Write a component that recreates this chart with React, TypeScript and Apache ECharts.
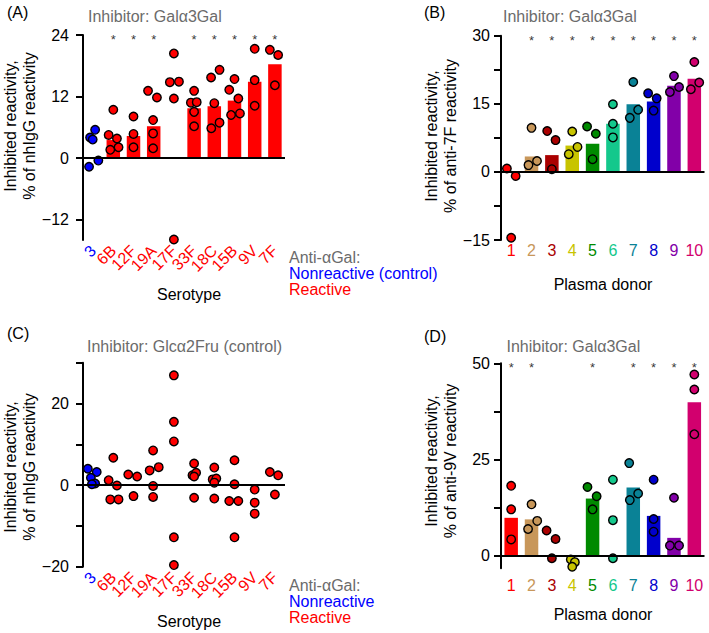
import React, { useEffect, useRef } from 'react';
import * as echarts from 'echarts';

const FONT = '"Liberation Sans", Arial, Helvetica, sans-serif';

// ---------- categories ----------
const serotypes = ['3', '6B', '12F', '19A', '17F', '33F', '18C', '15B', '9V', '7F'];
const serotypeColors = ['#0000ff', '#ff0000', '#ff0000', '#ff0000', '#ff0000', '#ff0000', '#ff0000', '#ff0000', '#ff0000', '#ff0000'];
const donors = ['1', '2', '3', '4', '5', '6', '7', '8', '9', '10'];
const donorColors = ['#ff0000', '#c8975a', '#aa0000', '#c8c400', '#008a00', '#14c88c', '#0a8296', '#0000cc', '#8200a8', '#d2006e'];

// ---------- Panel A (Galα3Gal, % of nhIgG) ----------
const aBars = [null, 3.5, 4.3, 6.2, null, 9.7, 10.1, 11.2, 14.9, 18.3];
const aStars = [1, 2, 3, 5, 6, 7, 8, 9];
// [category index, horizontal jitter, value]
const aPoints = [
  [0, -0.15, 4.0], [0, 0.1, 5.5], [0, -0.02, 3.6], [0, -0.2, -1.7], [0, 0.26, -0.5],
  [1, 0, 9.4], [1, -0.23, 4.5], [1, 0.18, 3.8], [1, -0.15, 1.6], [1, 0.26, 2.1],
  [2, 0, 8.1], [2, 0, 4.7], [2, 0, 2.1],
  [3, -0.28, 13.1], [3, 0.16, 11.8], [3, -0.03, 7.4], [3, -0.03, 4.8], [3, -0.03, 1.9],
  [4, 0, 20.4], [4, -0.2, 14.8], [4, 0.25, 14.9], [4, 0, 11.6], [4, 0, -15.9],
  [5, 0, 13.1], [5, -0.16, 10.8], [5, 0.13, 10.9], [5, 0, 9.0], [5, 0, 6.2],
  [6, -0.16, 15.7], [6, 0.26, 17.2], [6, 0, 10.7], [6, -0.15, 5.8], [6, 0.26, 6.9],
  [7, -0.26, 13.3], [7, 0, 15.4], [7, 0.19, 11.6], [7, -0.17, 8.4], [7, 0.27, 8.7],
  [8, 0, 21.3], [8, 0, 15.2], [8, 0, 10.2],
  [9, -0.25, 21.1], [9, 0.16, 20.1], [9, 0, 14.2],
];
const aTicks = [-12, 0, 12, 24];

// ---------- Panel B (Galα3Gal, % of anti-7F) ----------
const bBars = [null, 3.4, 3.7, 5.8, 6.2, 10.6, 14.9, 15.5, 19.0, 20.5];
const bStars = [1, 2, 3, 4, 5, 6, 7, 8, 9];
const bPoints = [
  [0, -0.21, 0.75], [0, 0.22, -0.9], [0, 0, -14.5],
  [1, 0, 9.7], [1, -0.15, 1.5], [1, 0.27, 2.4],
  [2, -0.23, 9.0], [2, 0.18, 7.0], [2, 0, 0.6],
  [3, 0, 8.9], [3, -0.17, 3.9], [3, 0.26, 5.5],
  [4, -0.27, 10.0], [4, 0.16, 8.4], [4, 0, 2.8],
  [5, 0, 14.9], [5, 0, 10.6], [5, 0, 7.6],
  [6, 0, 19.8], [6, -0.17, 11.9], [6, 0.24, 13.7],
  [7, -0.27, 17.3], [7, 0.15, 16.2], [7, 0, 13.5],
  [8, 0, 21.1], [8, -0.2, 17.6], [8, 0.25, 18.7],
  [9, 0, 24.2], [9, -0.17, 18.2], [9, 0.24, 19.7],
];
const bTicks = [-15, -7.5, 0, 7.5, 15, 22.5, 30];
const bTickLabels = [-15, 0, 15, 30];

// ---------- Panel C (Glcα2Fru control, % of nhIgG) ----------
const cBars = [null, null, null, null, null, null, null, null, null, null];
const cStars: number[] = [];
const cPoints = [
  [0, -0.26, 4.0], [0, 0.18, 3.2], [0, -0.11, 1.8], [0, 0.1, 0.4], [0, -0.06, 0.2],
  [1, 0, 6.7], [1, -0.23, 1.2], [1, 0.18, -0.1], [1, -0.15, -3.5], [1, 0.26, -3.5],
  [2, -0.26, 2.6], [2, 0.18, 2.1], [2, 0, -2.7],
  [3, -0.2, 3.6], [3, 0.25, 4.4], [3, -0.03, 8.5], [3, -0.03, -0.2], [3, -0.03, -2.9],
  [4, 0, 26.9], [4, 0, 15.5], [4, 0, 10.7], [4, 0, -12.8], [4, 0, -19.6],
  [5, 0, 5.3], [5, -0.08, 2.4], [5, 0.1, 3.0], [5, 0, 2.1], [5, 0, -3.1],
  [6, 0, 4.3], [6, -0.08, 1.4], [6, 0.1, 1.6], [6, 0, 0.6], [6, 0, -3.3],
  [7, 0, 6.1], [7, 0, 0.2], [7, -0.26, -3.9], [7, 0.19, -3.9], [7, 0, -12.8],
  [8, 0, -1.1], [8, 0, -4.3], [8, 0, -7.0],
  [9, -0.25, 3.2], [9, 0.16, 2.4], [9, 0, -2.3],
];
const cTicks = [-20, -10, 0, 10, 20, 30];
const cTickLabels = [-20, 0, 20];

// ---------- Panel D (Galα3Gal, % of anti-9V) ----------
const dBars = [9.9, 9.5, null, null, 14.9, null, 17.8, 10.4, 4.7, 39.9];
const dStars = [0, 1, 4, 6, 7, 8, 9];
const dPoints = [
  [0, 0, 18.2], [0, 0, 12.1], [0, 0, 4.3],
  [1, 0, 13.4], [1, -0.17, 7.0], [1, 0.28, 9.1],
  [2, -0.26, 6.6], [2, 0.18, 4.4], [2, 0, -0.6],
  [3, -0.07, -0.9], [3, 0.13, -1.6], [3, 0, -2.8],
  [4, -0.25, 17.9], [4, 0.2, 15.5], [4, 0, 12.1],
  [5, 0, 19.8], [5, 0, 9.3], [5, 0, -0.6],
  [6, -0.2, 24.1], [6, -0.17, 14.5], [6, 0.24, 16.2],
  [7, 0, 19.8], [7, 0, 9.6], [7, 0, 6.3],
  [8, 0, 15.1], [8, -0.2, 2.7], [8, 0.25, 2.7],
  [9, 0, 47.1], [9, 0, 43.2], [9, 0, 31.6],
];
const dTicks = [0, 12.5, 25, 37.5, 50];
const dTickLabels = [0, 25, 50];

const fmt = (v: number) => (v < 0 ? '\u2212' + Math.abs(v) : String(v));

type Panel = {
  grid: any; cats: string[]; colors: string[]; bars: (number | null)[]; points: number[][];
  stars: number[]; starY: number; yMin: number; yMax: number; ticks: number[]; labels: number[];
  yLabelMargin: number; rotate: number; xMargin: number; barWidth: number;
};

const panels: Panel[] = [
  { grid: { left: 83, top: 35, width: 202, height: 205 }, cats: serotypes, colors: serotypeColors, bars: aBars, points: aPoints,
    stars: aStars, starY: 23.7, yMin: -16, yMax: 24, ticks: aTicks, labels: aTicks, yLabelMargin: 14, rotate: 45, xMargin: 8, barWidth: 13.5 },
  { grid: { left: 501, top: 35.7, width: 203.5, height: 204.3 }, cats: donors, colors: donorColors, bars: bBars, points: bPoints,
    stars: bStars, starY: 29.5, yMin: -15, yMax: 30, ticks: bTicks, labels: bTickLabels, yLabelMargin: 11, rotate: 0, xMargin: 2, barWidth: 13.5 },
  { grid: { left: 83, top: 362.7, width: 202, height: 204 }, cats: serotypes, colors: serotypeColors, bars: cBars, points: cPoints,
    stars: cStars, starY: 29, yMin: -20, yMax: 30, ticks: cTicks, labels: cTickLabels, yLabelMargin: 14, rotate: 45, xMargin: 8, barWidth: 13.5 },
  { grid: { left: 501, top: 363.3, width: 203.5, height: 205 }, cats: donors, colors: donorColors, bars: dBars, points: dPoints,
    stars: dStars, starY: 49.75, yMin: -3.2, yMax: 50, ticks: dTicks, labels: dTickLabels, yLabelMargin: 11, rotate: 0, xMargin: 9, barWidth: 13.5 },
];

function buildOption() {
  const grid: any[] = [];
  const xAxis: any[] = [];
  const yAxis: any[] = [];
  const series: any[] = [];
  panels.forEach((p, i) => {
    grid.push(p.grid);
    xAxis.push({
      type: 'category', gridIndex: i, data: p.cats, boundaryGap: true,
      axisLine: { show: false }, axisTick: { show: false }, splitLine: { show: false },
      axisLabel: {
        interval: 0, rotate: p.rotate, margin: p.xMargin, fontSize: 16, fontFamily: FONT,
        color: (_v: any, idx: number) => p.colors[idx],
      },
    });
    xAxis.push({ type: 'value', gridIndex: i, min: -0.5, max: p.cats.length - 0.5, show: false });
    yAxis.push({
      type: 'value', gridIndex: i, min: p.yMin, max: p.yMax,
      axisLine: { show: true, onZero: false, lineStyle: { color: '#000', width: 2 } },
      axisTick: { show: true, length: 7, lineStyle: { color: '#000', width: 2 }, customValues: p.ticks },
      axisLabel: { fontSize: 16, fontFamily: FONT, color: '#000', margin: p.yLabelMargin, customValues: p.labels, formatter: fmt },
      splitLine: { show: false },
    });
    series.push({
      type: 'bar', xAxisIndex: 2 * i, yAxisIndex: i, barWidth: p.barWidth, z: 1,
      data: p.bars.map((v, k) => ({ value: v, itemStyle: { color: p.colors[k] } })),
    });
    series.push({
      type: 'scatter', xAxisIndex: 2 * i + 1, yAxisIndex: i, symbolSize: 8.5, z: 4, clip: false,
      itemStyle: { borderColor: '#000', borderWidth: 1.4, opacity: 1 },
      data: p.points.map(([c, j, v]) => ({ value: [c + j, v], itemStyle: { color: p.colors[c] } })),
      markLine: {
        silent: true, symbol: ['none', 'none'], label: { show: false }, animation: false,
        lineStyle: { color: '#000', width: 2, type: 'solid' }, data: [{ yAxis: 0 }],
      },
    });
    if (p.stars.length) {
      series.push({
        type: 'scatter', xAxisIndex: 2 * i + 1, yAxisIndex: i, symbolSize: 1, z: 5, clip: false,
        itemStyle: { color: 'rgba(0,0,0,0)' },
        label: { show: true, position: 'inside', formatter: '*', fontSize: 13, fontFamily: FONT, color: '#000', offset: [0, 3] },
        data: p.stars.map((c) => [c, p.starY]),
      });
    }
  });

  const txt = (text: string, x: number, y: number, fill: string, align = 'left', extra: any = {}, lh = 19) => ({
    type: 'text', x, y, ...extra,
    style: { text, fill, fontSize: 16, fontFamily: FONT, align, verticalAlign: 'middle', textAlign: align, textVerticalAlign: 'middle', lineHeight: lh },
  });
  const gray = '#6b6b6b';
  const legendRich = {
    g: { fill: gray, color: gray, fontSize: 16, fontFamily: FONT, lineHeight: 16 },
    b: { fill: '#0000ff', color: '#0000ff', fontSize: 16, fontFamily: FONT, lineHeight: 16 },
    r: { fill: '#ff0000', color: '#ff0000', fontSize: 16, fontFamily: FONT, lineHeight: 16 },
  };
  const legend = (x: number, y: number, nonreactive: string) => ({
    type: 'text', x, y,
    style: {
      text: `{g|Anti-\u03b1Gal:}\n{b|${nonreactive}}\n{r|Reactive}`, rich: legendRich,
      fontSize: 16, fontFamily: FONT, lineHeight: 16,
      align: 'left', verticalAlign: 'middle', textAlign: 'left', textVerticalAlign: 'middle',
    },
  });
  const graphic = [
    txt('(A)', 7, 12, '#000'),
    txt('(B)', 424, 12, '#000'),
    txt('(C)', 7, 333, '#000'),
    txt('(D)', 424, 336, '#000'),
    txt('Inhibitor: Gal\u03b13Gal', 88, 16.5, gray),
    txt('Inhibitor: Gal\u03b13Gal', 503, 16.5, gray),
    txt('Inhibitor: Glc\u03b12Fru (control)', 87, 346.5, gray),
    txt('Inhibitor: Gal\u03b13Gal', 506.5, 346.5, gray),
    txt('Inhibited reactivity,\n% of nhIgG reactivity', 20, 126, '#000', 'center', { rotation: Math.PI / 2 }),
    txt('Inhibited reactivity,\n% of anti-7F reactivity', 441, 136, '#000', 'center', { rotation: Math.PI / 2 }),
    txt('Inhibited reactivity,\n% of nhIgG reactivity', 20, 467, '#000', 'center', { rotation: Math.PI / 2 }),
    txt('Inhibited reactivity,\n% of anti-9V reactivity', 441, 461, '#000', 'center', { rotation: Math.PI / 2 }),
    legend(289, 273, 'Nonreactive (control)'),
    txt('Serotype', 189, 294, '#000', 'center', {}, 14),
    legend(289, 601.5, 'Nonreactive'),
    txt('Serotype', 189, 621, '#000', 'center', {}, 14),
    txt('Plasma donor', 603, 284, '#000', 'center'),
    txt('Plasma donor', 603, 614, '#000', 'center'),
  ];

  return {
    animation: false,
    backgroundColor: '#fff',
    textStyle: { fontFamily: FONT },
    grid, xAxis, yAxis, series, graphic,
  };
}

export default function App() {
  const ref = useRef<HTMLDivElement>(null);
  useEffect(() => {
    if (!ref.current) return;
    const chart = echarts.init(ref.current, undefined, { renderer: 'svg' });
    chart.setOption(buildOption() as any);
    return () => chart.dispose();
  }, []);
  return <div ref={ref} style={{ position: 'fixed', left: 0, top: 0, width: 709, height: 633, background: '#fff' }} />;
}
